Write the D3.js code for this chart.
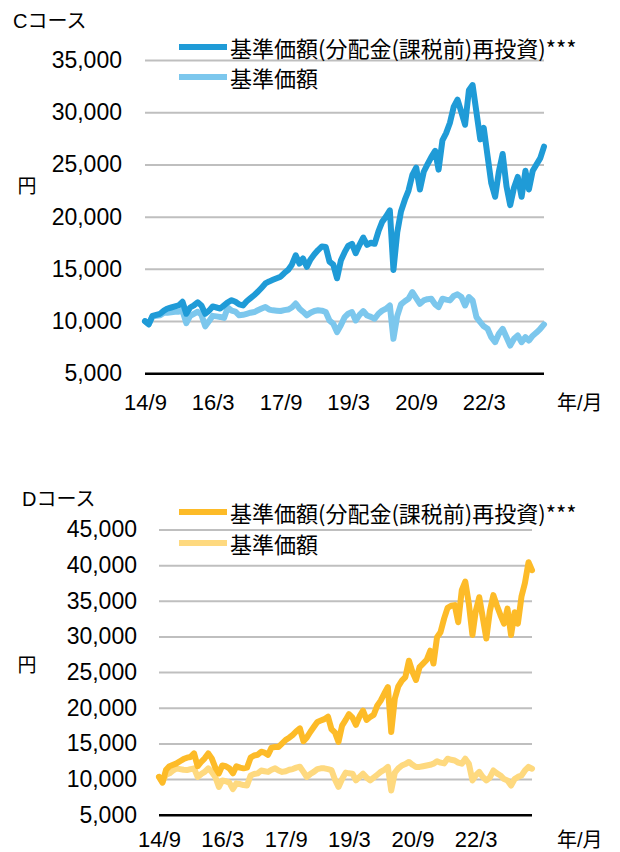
<!DOCTYPE html>
<html>
<head>
<meta charset="utf-8">
<script src="https://cdn.jsdelivr.net/npm/d3@7"></script>
<style>
  body { margin: 0; background: #fff; }
  svg { display: block; font-family: "Liberation Sans", Arial, "Noto Sans CJK JP", sans-serif; }
</style>
</head>
<body>
<div id="chart"></div>
<script>

// monthly values, first month = 2014/9
const startMonth = "2014-09";

const tickDates = ["2014-09", "2016-03", "2017-09", "2019-03", "2020-09", "2022-03"];
const tickLabels = ["14/9", "16/3", "17/9", "19/3", "20/9", "22/3"];

const legendLabels = ["基準価額(分配金(課税前)再投資)***", "基準価額"];

const cTicks = [5000, 10000, 15000, 20000, 25000, 30000, 35000];
const dTicks = [5000, 10000, 15000, 20000, 25000, 30000, 35000, 40000, 45000];

// Cコース
const cReinvest = [
  10000, 9700, 10500, 10600, 10700, 11000, 11200, 11300, 11400, 11500,
  11850, 10700, 11300, 11500, 11800, 11500, 10700, 11000, 11400, 11300,
  11200, 11500, 11800, 12000, 11850, 11600, 11500, 11900, 12200, 12500,
  12800, 13200, 13600, 13800, 13950, 14100, 14250, 14600, 14900, 15400,
  16300, 15500, 16000, 15200, 15900, 16400, 16800, 17150, 17100, 15700,
  15400, 14100, 15800, 16600, 17200, 17400, 16500, 17300, 18000, 17300,
  17500, 17400, 18600, 19500, 20000, 20600, 14900, 18500, 20500, 21600,
  22500, 24000, 24700, 22600, 24300, 25000, 25700, 26300, 24500, 27300,
  28000, 29000, 30500, 31200, 30000, 28800, 32100, 32600, 30000, 27400,
  28500, 25800, 23200, 21900, 24300, 26000, 22900, 21100, 22800, 23800,
  21900, 24400, 22600, 24400, 25000, 25600, 26700
];
const cNav = [
  10000, 9700, 10450, 10500, 10550, 10800, 10800, 10850, 10900, 10900,
  11000, 9800, 10500, 10700, 10900, 10600, 9500, 10000, 10500, 10450,
  10400, 10300, 11300, 11000, 10900, 10550, 10600, 10700, 10800, 10870,
  11030, 11200, 11350, 11100, 11030, 11000, 10970, 11050, 11100, 11300,
  11680, 11190, 10900, 10550, 10800, 10970, 11030, 11000, 10870, 10060,
  9740, 8940, 9600, 10380, 10700, 10860, 10060, 10600, 10960, 10540,
  10400, 10220, 10700, 11000, 11180, 11500, 8300, 10500, 11600, 11900,
  12140, 12780, 12200, 11660, 11980, 12100, 12140, 11600, 11340, 12140,
  12050, 11980, 12400, 12560, 12300, 11500, 12300, 11980, 10380, 9900,
  9500, 9260, 8460, 7980, 8780, 9260, 8460, 7660, 8300, 8620,
  7980, 8460, 8140, 8600, 8900, 9260, 9680
];

// Dコース
const dReinvest = [
  10300, 9500, 11300, 11800, 12000, 12200, 12500, 12800, 13000, 13100,
  13600, 11800, 12400, 12900, 13600, 12900, 11600, 10800, 11900, 11800,
  11500, 10800, 11800, 11600, 11500, 11600, 13000, 13300, 13400, 13840,
  13700, 13400, 14400, 14500, 14500, 15000, 15500, 15800, 16200, 16700,
  17100, 15300, 15800, 16600, 17300, 18000, 18200, 18400, 18750, 17000,
  16500, 15200, 17500, 18300, 19100, 18600, 17600, 18800, 19600, 18300,
  18700, 19000, 20300, 21000, 22000, 22900, 16600, 21300, 23000, 23800,
  24300, 26600, 25000, 23900, 25700, 26200, 26700, 28000, 26200, 29900,
  30600, 32500, 34000, 34300, 34400, 32000, 36500, 37700, 34600, 30200,
  33500, 35500, 32700, 29700, 33500, 35800, 34300, 33000, 31800, 33900,
  30200, 33400, 31800, 35600, 37500, 40400, 39300
];
const dNav = [
  10300, 9600, 10600, 10800, 11200, 11500, 11400, 11300, 11260, 11400,
  11500, 10300, 10700, 11000, 11500, 11000, 10300, 8900, 9800, 9700,
  9500, 8600, 9400, 9300, 9160, 9100, 10500, 10700, 10800, 11200,
  11100, 11000, 11300, 11500, 11200, 11000, 11100, 11300, 11400, 11600,
  11730, 11000, 10300, 10700, 11000, 11400, 11500, 11500, 11400, 11260,
  9900, 8900, 10000, 10900, 10800, 10750, 9810, 10300, 10750, 10200,
  9810, 10200, 10600, 11000, 11300, 11700, 8400, 10900, 11500, 11900,
  12100, 12400, 12000, 11700, 11700, 11800, 11900, 12000, 12150, 12500,
  12300, 12200, 12850, 12700, 12600, 12300, 12150, 12850, 12150, 9800,
  10500, 11000, 10300, 9800, 10200, 11200, 10800, 10500, 10000, 9800,
  9100, 10000, 10300, 10500, 11200, 11700, 11450
];

const width = 620, height = 852;
const parseMonth = d3.timeParse("%Y-%m");

const svg = d3.select("#chart")
  .append("svg")
  .attr("width", width)
  .attr("height", height);

function drawChart(cfg) {
  const start = parseMonth(startMonth);
  const dates = cfg.dark.map((d, i) => d3.timeMonth.offset(start, i));

  const xScale = d3.scaleTime()
    .domain([dates[0], dates[dates.length - 1]])
    .range([cfg.left, cfg.right]);

  const yScale = d3.scaleLinear()
    .domain([cfg.ticks[0], cfg.ticks[cfg.ticks.length - 1]])
    .range([cfg.bottom, cfg.top]);

  // title
  svg.append("text")
    .attr("x", cfg.titleX)
    .attr("y", cfg.titleY)
    .attr("font-size", 20)
    .attr("fill", "#000")
    .text(cfg.title);

  // y axis with gridlines
  const yAxis = svg.append("g")
    .attr("transform", `translate(${cfg.left},0)`)
    .call(d3.axisLeft(yScale)
      .tickValues(cfg.ticks)
      .tickSize(-(cfg.right - cfg.left))
      .tickPadding(cfg.left - cfg.labelX)
      .tickFormat(d3.format(",")));
  yAxis.select(".domain").remove();
  yAxis.selectAll(".tick line")
    .attr("stroke", (d) => d === cfg.ticks[0] ? "#000" : "#bfbfbf")
    .attr("stroke-width", (d) => d === cfg.ticks[0] ? 2.5 : 2);
  yAxis.selectAll(".tick text")
    .attr("font-size", 23)
    .attr("fill", "#000");

  // 円
  svg.append("text")
    .attr("x", 27)
    .attr("y", cfg.yenY)
    .attr("text-anchor", "middle")
    .attr("dominant-baseline", "central")
    .attr("font-size", 19)
    .text("円");

  // x axis labels
  const xAxis = svg.append("g")
    .attr("transform", `translate(0,${cfg.bottom})`)
    .call(d3.axisBottom(xScale)
      .tickValues(tickDates.map(parseMonth))
      .tickSize(0)
      .tickPadding(cfg.xPad)
      .tickFormat((d, i) => tickLabels[i]));
  xAxis.select(".domain").remove();
  xAxis.selectAll(".tick text")
    .attr("font-size", 22)
    .attr("fill", "#000");

  svg.append("text")
    .attr("x", 557)
    .attr("y", cfg.unitY)
    .attr("font-size", 20)
    .text("年/月");

  // lines: nav under, reinvest on top
  const line = d3.line()
    .x((d, i) => xScale(dates[i]))
    .y((d) => yScale(d));

  svg.append("path")
    .datum(cfg.light)
    .attr("d", line)
    .attr("fill", "none")
    .attr("stroke", cfg.lightColor)
    .attr("stroke-width", 6)
    .attr("stroke-linejoin", "round")
    .attr("stroke-linecap", "round");

  svg.append("path")
    .datum(cfg.dark)
    .attr("d", line)
    .attr("fill", "none")
    .attr("stroke", cfg.darkColor)
    .attr("stroke-width", 6)
    .attr("stroke-linejoin", "round")
    .attr("stroke-linecap", "round");

  // legend
  const legend = svg.append("g");
  [cfg.darkColor, cfg.lightColor].forEach((c, i) => {
    const ly = cfg.legendY[i];
    legend.append("line")
      .attr("x1", 179).attr("x2", 227)
      .attr("y1", ly).attr("y2", ly)
      .attr("stroke", c)
      .attr("stroke-width", 6);
    legend.append("text")
      .attr("x", 230)
      .attr("y", ly)
      .attr("dominant-baseline", "central")
      .attr("font-family", "'Noto Sans CJK JP', sans-serif")
      .attr("font-size", 22)
      .text(legendLabels[i]);
  });
}

drawChart({
  title: "Cコース", titleX: 13, titleY: 28,
  dark: cReinvest, light: cNav,
  darkColor: "#1f9bd7", lightColor: "#7cc7ed",
  ticks: cTicks,
  left: 145, right: 544, top: 60, bottom: 373.3,
  labelX: 122, xPad: 21, unitY: 410, yenY: 186,
  legendY: [47, 77]
});

drawChart({
  title: "Dコース", titleX: 22, titleY: 506,
  dark: dReinvest, light: dNav,
  darkColor: "#fdbb28", lightColor: "#fed97f",
  ticks: dTicks,
  left: 159, right: 532, top: 529.5, bottom: 814.7,
  labelX: 137, xPad: 17, unitY: 847, yenY: 665,
  legendY: [512, 543]
});

</script>
</body>
</html>
